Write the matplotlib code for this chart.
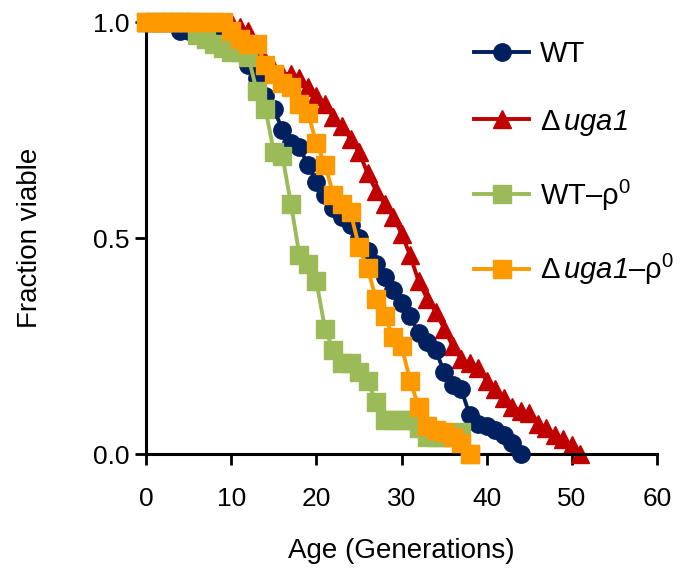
import numpy as np
import matplotlib
matplotlib.use("Agg")
import matplotlib.pyplot as plt

plt.rcParams['font.family'] = ['Liberation Sans', 'DejaVu Sans']
plt.rcParams['mathtext.fontset'] = 'custom'
plt.rcParams['mathtext.rm'] = 'Liberation Sans'
plt.rcParams['mathtext.it'] = 'Liberation Sans:italic'
plt.rcParams['mathtext.sf'] = 'Liberation Sans:italic'  # used for the gene name, digits included

# survival data, one point per generation
wt_gen = list(range(0, 45))
wt_frac = [1.0, 1.0, 1.0, 1.0, 0.98, 0.98, 0.98, 0.98, 0.98, 0.98,
           0.97, 0.95, 0.90, 0.87, 0.83, 0.80, 0.75, 0.72, 0.71, 0.67,
           0.63, 0.60, 0.57, 0.55, 0.53, 0.50, 0.47, 0.44, 0.41, 0.38,
           0.35, 0.32, 0.28, 0.26, 0.24, 0.19, 0.16, 0.15, 0.09, 0.07,
           0.065, 0.055, 0.045, 0.025, 0.0]

uga_gen = list(range(0, 52))
uga_frac = [1.0, 1.0, 1.0, 1.0, 1.0, 1.0, 1.0, 1.0, 1.0, 1.0,
            1.0, 0.99, 0.98, 0.93, 0.91, 0.89, 0.88, 0.88, 0.87, 0.85,
            0.83, 0.81, 0.78, 0.76, 0.73, 0.70, 0.65, 0.61, 0.58, 0.55,
            0.51, 0.46, 0.40, 0.36, 0.33, 0.29, 0.25, 0.22, 0.21, 0.20,
            0.17, 0.15, 0.13, 0.11, 0.10, 0.095, 0.07, 0.06, 0.045, 0.035,
            0.02, 0.0]

wtr_gen = list(range(0, 39))
wtr_frac = [1.0, 1.0, 1.0, 1.0, 1.0, 1.0, 0.97, 0.96, 0.95, 0.94,
            0.93, 0.93, 0.92, 0.84, 0.80, 0.70, 0.69, 0.58, 0.46, 0.44,
            0.40, 0.29, 0.24, 0.21, 0.21, 0.19, 0.17, 0.12, 0.08, 0.08,
            0.08, 0.08, 0.06, 0.04, 0.04, 0.04, 0.04, 0.05, 0.0]

ugar_gen = list(range(0, 39))
ugar_frac = [1.0, 1.0, 1.0, 1.0, 1.0, 1.0, 1.0, 1.0, 1.0, 1.0,
             0.98, 0.96, 0.95, 0.95, 0.90, 0.88, 0.86, 0.85, 0.81, 0.79,
             0.72, 0.67, 0.60, 0.58, 0.56, 0.48, 0.43, 0.36, 0.32, 0.27,
             0.25, 0.17, 0.11, 0.065, 0.055, 0.05, 0.04, 0.025, 0.0]

fig = plt.figure(figsize=(6.83, 5.69), dpi=100)
ax = fig.add_axes([0.214, 0.202, 0.748, 0.759])

ms = 12.5
lw = 2.8
ax.plot(wt_gen, wt_frac, '-o', color='#002060', lw=lw, ms=ms, label='WT',
        zorder=3, clip_on=False)
ax.plot(uga_gen, uga_frac, '-^', color='#C00000', lw=lw, ms=ms,
        label=r'$\mathregular{Δ}\,\mathsf{uga1}$', zorder=2, clip_on=False)
ax.plot(wtr_gen, wtr_frac, '-s', color='#9BBB59', lw=lw, ms=ms,
        label=r'WT–$\mathregular{ρ^0}$', zorder=4, clip_on=False)
ax.plot(ugar_gen, ugar_frac, '-s', color='#FF9900', lw=lw, ms=ms,
        label=r'$\mathregular{Δ}\,\mathsf{uga1}$–$\mathregular{ρ^0}$',
        zorder=5, clip_on=False)

ax.set_xlim(0, 60)
ax.set_ylim(0, 1)
ax.set_xticks([0, 10, 20, 30, 40, 50, 60])
ax.set_yticks([0.0, 0.5, 1.0])
ax.set_yticklabels(['0.0', '0.5', '1.0'])
for s in ['top', 'right']:
    ax.spines[s].set_visible(False)
for s in ['left', 'bottom']:
    ax.spines[s].set_linewidth(2.2)
ax.tick_params(width=2, length=8, labelsize=19)
ax.tick_params(axis='x', pad=16)
ax.tick_params(axis='y', pad=4)

ax.set_xlabel('Age (Generations)', fontsize=20, labelpad=19)
ax.set_ylabel('Fraction viable', fontsize=20, labelpad=36)

ax.legend(loc='upper left', bbox_to_anchor=(474 / 683, 1 - 40 / 569),
          bbox_transform=fig.transFigure, frameon=False,
          fontsize=21, handlelength=1.9, labelspacing=1.36, handletextpad=0.35,
          borderaxespad=0, borderpad=0)

fig.savefig('out.png', dpi=100)
